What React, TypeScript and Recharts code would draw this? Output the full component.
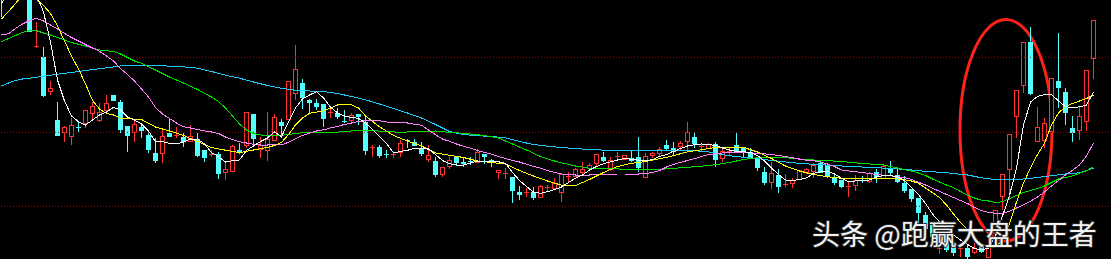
import React from "react";
import {
  ComposedChart,
  Bar,
  Line,
  XAxis,
  YAxis,
  ReferenceLine,
  ReferenceArea,
} from "recharts";

// daily candles, oldest first
const opens = [
  33, 30.8, 34, 32.2, 31, 25.33, 24.27, 20.83, 18.0, 16.77,
  16.33, 17.3, 17.67, 18.67, 17.93, 19.0, 20.47, 19.8, 17.39, 16.77,
  17.33, 16.5, 14.73, 14.67, 16.73, 16.43, 16.27, 15.9, 16.07, 14.99,
  14.6, 14.6, 12.73, 12.83, 15.0, 15.43, 18.59, 15.1, 15.0, 16.0,
  17.83, 18.1, 20.67, 21.67, 20.0, 19.67, 19.59, 18.77, 18.67, 17.83,
  17.93, 18.56, 17.83, 15.27, 15.27, 14.6, 14.6, 14.77, 16.0, 15.83,
  15.23, 14.07, 13.9, 12.6, 13.33, 14.32, 13.83, 13.83, 13.77, 14.59,
  13.93, 12.73, 12.67, 12.32, 10.83, 10.73, 10.83, 10.23, 11.23, 11.17,
  10.73, 12.4, 12.33, 12.73, 13.17, 13.67, 14.33, 13.07, 14.4, 14.07,
  14.17, 14.33, 12.27, 14.43, 14.67, 15.5, 15.17, 15.33, 15.83, 16.33,
  15.4, 15.17, 15.6, 14.17, 14.83, 15.5, 15.22, 14.83, 14.06, 12.83,
  11.73, 12.5, 11.57, 11.67, 12.07, 12.77, 12.83, 13.67, 13.5, 12.17,
  11.99, 11.33, 11.43, 12.0, 11.83, 12.83, 12.17, 13.17, 12.5, 11.67,
  11.09, 10.16, 8.5, 7.5, 5.17, 6.0, 5.33, 5.17, 5.17, 4.73,
  5.4, 4.23, 6.67, 10.33, 13.07, 18.33, 21.5, 25.77, 15.83, 16.0,
  16.83, 21.93, 20.77, 17.23, 16.93, 17.83, 24.17,
];
const highs = [
  34, 33.5, 34.5, 33, 31.5, 27.83, 25.27, 21.9, 19.77, 17.4,
  18.23, 17.83, 19.0, 19.83, 19.67, 20.5, 20.5, 20.0, 17.4, 18.0,
  17.67, 17.0, 16.17, 17.07, 18.07, 17.27, 16.73, 17.5, 16.67, 15.0,
  15.0, 14.83, 13.73, 15.5, 15.67, 18.77, 18.6, 16.33, 18.77, 18.57,
  18.1, 21.9, 25.5, 22.1, 20.1, 20.1, 19.6, 19.27, 19.17, 19.0,
  18.67, 18.57, 18.33, 15.5, 15.5, 15.0, 14.83, 16.0, 16.07, 16.1,
  15.83, 15.5, 14.33, 13.33, 14.33, 14.33, 14.17, 14.27, 15.07, 14.6,
  14.07, 12.93, 13.17, 12.33, 11.4, 11.17, 11.33, 11.5, 11.5, 12.2,
  12.6, 12.83, 13.17, 13.77, 13.67, 14.6, 14.77, 14.33, 14.77, 14.5,
  14.93, 16.33, 14.67, 14.83, 15.33, 16.0, 15.77, 15.93, 17.77, 16.77,
  15.6, 15.73, 15.83, 15.07, 15.17, 16.73, 15.23, 15.17, 14.07, 13.33,
  13.83, 13.07, 12.6, 12.23, 12.93, 13.23, 13.67, 13.93, 13.7, 12.67,
  12.0, 11.83, 12.5, 12.4, 12.83, 13.1, 13.33, 13.93, 13.07, 12.4,
  11.1, 10.17, 8.8, 7.8, 5.5, 6.2, 5.8, 5.4, 5.5, 5.67,
  5.5, 6.5, 9.0, 12.6, 16.57, 21.0, 25.77, 27.33, 19.33, 18.17,
  22.17, 26.67, 21.17, 18.4, 19.33, 23.0, 28.0,
];
const lows = [
  28.3, 30.5, 31.2, 30.3, 26.76, 25.17, 20.33, 20.5, 16.4, 15.83,
  15.5, 16.83, 17.17, 18.1, 17.83, 18.83, 19.92, 16.67, 14.83, 15.83,
  16.17, 14.73, 13.73, 13.73, 16.32, 16.17, 15.33, 15.83, 14.33, 13.83,
  14.33, 12.1, 12.0, 12.82, 14.6, 15.17, 15.33, 14.17, 13.93, 15.9,
  16.17, 18.09, 20.0, 19.1, 18.6, 19.0, 17.33, 18.23, 18.1, 17.73,
  17.67, 17.5, 14.5, 14.33, 14.17, 14.17, 14.23, 14.33, 15.17, 15.4,
  14.4, 13.77, 12.33, 12.33, 13.07, 13.43, 13.33, 13.5, 13.67, 13.6,
  13.33, 12.1, 12.1, 9.73, 10.0, 10.33, 10.0, 10.22, 10.83, 11.0,
  9.83, 11.83, 12.27, 12.6, 13.0, 13.33, 13.83, 12.93, 14.0, 14.06,
  13.83, 12.83, 12.26, 14.17, 14.33, 15.0, 14.5, 15.0, 14.83, 15.17,
  14.93, 15.1, 13.33, 13.83, 14.5, 14.73, 14.33, 14.16, 12.93, 11.5,
  11.1, 10.73, 11.33, 11.17, 12.0, 12.6, 12.23, 12.72, 12.2, 11.5,
  11.17, 10.33, 10.93, 11.67, 11.73, 11.73, 12.16, 12.5, 11.67, 10.67,
  9.83, 7.67, 6.7, 6.0, 4.6, 4.8, 4.4, 4.33, 4.1, 4.6,
  4.7, 4.17, 5.4, 9.0, 10.0, 16.17, 20.67, 20.5, 15.82, 15.17,
  16.82, 19.17, 17.5, 15.83, 16.0, 16.93, 22.1,
];
const closes = [
  31, 33, 32, 31, 26.77, 25.33, 20.43, 21.17, 16.43, 17.23,
  17.47, 17.29, 18.95, 19.33, 18.77, 19.67, 19.93, 17.0, 16.43, 17.6,
  16.93, 15.0, 13.9, 16.4, 16.33, 16.43, 15.83, 16.33, 14.4, 14.23,
  14.6, 12.6, 13.07, 15.4, 14.67, 18.76, 16.07, 15.43, 16.07, 18.27,
  17.4, 21.89, 23.07, 20.23, 19.67, 19.33, 18.07, 18.77, 18.27, 17.82,
  18.43, 18.27, 14.9, 15.27, 14.4, 14.59, 14.6, 15.67, 15.9, 15.43,
  14.6, 14.5, 12.5, 13.23, 14.0, 13.67, 13.57, 13.82, 14.73, 14.27,
  13.92, 12.92, 12.67, 10.93, 10.5, 10.73, 10.23, 11.4, 11.23, 11.67,
  12.59, 12.4, 13.07, 13.07, 13.5, 14.59, 13.9, 14.0, 14.4, 14.49,
  13.93, 13.17, 14.33, 14.67, 15.07, 15.1, 14.83, 15.67, 16.77, 15.6,
  15.4, 15.57, 14.0, 14.83, 14.83, 14.83, 14.77, 14.17, 13.17, 11.73,
  12.67, 11.33, 11.57, 12.0, 12.92, 13.1, 13.5, 12.73, 12.27, 11.73,
  11.33, 11.33, 12.0, 11.99, 12.67, 12.27, 13.32, 12.67, 11.83, 10.93,
  10.07, 8.67, 7.1, 6.3, 5.17, 5.0, 4.67, 5.17, 4.33, 5.17,
  4.83, 5.33, 8.99, 12.59, 16.56, 20.99, 25.76, 20.6, 17.27, 17.67,
  22.16, 21.17, 18.73, 16.73, 18.4, 22.99, 27.99,
];

// moving averages
const ma5 = [
  29.7, 30.5, 31.5, 32, 31.8, 30.5, 28.8, 25.8, 22, 19.9,
  18.4, 17.83, 17.5, 18, 18.5, 18.8, 19.27, 19, 18.3, 18,
  17.6, 16.9, 15.83, 15.83, 15.67, 15.6, 15.8, 16.1, 16.1, 15.6,
  14.75, 14.33, 13.8, 13.93, 14, 14.95, 15.4, 15.85, 16.2, 16.8,
  16.33, 17.8, 19.2, 20.1, 20.5, 20.83, 20.2, 19.3, 18.7, 18.4,
  18.25, 18.17, 17.7, 17.05, 16.35, 15.67, 14.7, 14.85, 14.97, 15.17,
  15.17, 15.1, 14.55, 13.95, 13.63, 13.5, 13.47, 13.7, 13.9, 13.9,
  13.87, 13.82, 13.67, 12.75, 11.95, 11.35, 10.8, 10.67, 10.83, 11.05,
  11.3, 11.75, 12.17, 12.5, 13, 13.35, 13.63, 13.8, 14, 14.15,
  14.07, 13.98, 13.92, 14.05, 14.35, 14.55, 14.85, 15.15, 15.4, 15.53,
  15.6, 15.55, 15.45, 15.2, 15, 14.88, 14.83, 14.75, 14.45, 13.9,
  13.2, 12.55, 12, 11.95, 12.05, 12.2, 12.67, 12.8, 12.85, 12.6,
  12.17, 11.83, 11.9, 11.95, 12, 12.3, 12.45, 12.45, 12.3, 11.95,
  11.25, 10.55, 9.65, 8.6, 7.8, 7.05, 6.5, 6, 5.55, 5.15,
  5, 5.2, 6.4, 8.4, 10.45, 13.2, 17.5, 19.8, 20.35, 20.53,
  20.55, 19.9, 19.35, 19.23, 19.32, 19.5, 20.8,
];
const ma10: [number, number][] = [
  [0, 28.1], [1, 28.85], [2, 29.65], [3, 30.5], [4, 30.6], [5, 30.1], [6, 29.45],
  [7, 28.65], [8, 27.4], [9, 25.9], [10, 24.4], [11, 23.1], [12, 21.6], [13, 19.95],
  [14, 19.1], [15, 18.65], [16, 18.5], [17, 18.17], [20, 18.05], [22, 17.3], [24, 16.9],
  [26, 16.45], [28, 15.85], [30, 15.25], [32, 14.98], [34, 14.73], [36, 15], [38, 15.27],
  [39, 15.45], [40, 15.75], [41, 16.55], [42, 17.5], [43, 18.2], [44, 18.67], [46, 18.9],
  [48, 19.5], [50, 19.53], [51, 19.2], [52, 18.4], [54, 17.33], [56, 16.45], [58, 15.9],
  [60, 15.4], [62, 14.7], [64, 14.48], [66, 14.25], [68, 13.9], [70, 13.75], [72, 13.6],
  [74, 12.95], [76, 12.4], [78, 11.9], [80, 11.48], [82, 11.45], [84, 12.05], [86, 12.75],
  [88, 13.35], [90, 13.67], [92, 13.85], [94, 14.12], [96, 14.43], [98, 14.82], [100, 15.02],
  [102, 15.25], [104, 15.27], [106, 15.27], [108, 14.8], [110, 14.15], [112, 13.4], [114, 12.9],
  [116, 12.55], [118, 12.33], [120, 12.17], [124, 12.17], [128, 12.1], [129, 12.03], [130, 11.9],
  [131, 11.67], [132, 11.2], [133, 10.73], [134, 10.25], [135, 9.5], [136, 8.6], [137, 7.75],
  [138, 7.05], [139, 6.2], [140, 5.63], [141, 5.23], [142, 5.3], [143, 6], [144, 7.6],
  [145, 9.8], [146, 11.7], [147, 13.2], [148, 14.55], [149, 15.67], [150, 17.5], [151, 18.7],
  [152, 19.35], [153, 19.65], [154, 19.9], [155, 20.15], [156, 20.5],
];
const ma20 = [
  26.5, 26.62, 27.15, 27.6, 27.95, 28.17, 27.9, 27.5, 27.1, 26.65,
  26.25, 25.9, 25.55, 25.2, 24.87, 24.4, 23.9, 23.15, 22.55, 21.9,
  21.1, 20.3, 19.25, 18.6, 18.15, 17.7, 17.32, 17.2, 17.05, 16.9,
  16.8, 16.65, 16.3, 16.05, 15.82, 15.7, 15.58, 15.5, 15.5, 15.55,
  15.52, 15.77, 16.14, 16.45, 16.7, 16.9, 17.02, 17.2, 17.37, 17.55,
  17.7, 17.85, 17.92, 17.93, 17.93, 17.8, 17.74, 17.77, 17.7, 17.57,
  17.48, 17.0, 16.53, 16.1, 15.87, 15.6, 15.37, 15.18, 14.94, 14.75,
  14.58, 14.35, 14.15, 13.96, 13.8, 13.57, 13.36, 13.18, 12.95, 12.75,
  12.6, 12.53, 12.5, 12.5, 12.5, 12.53, 12.55, 12.59, 12.6, 12.6,
  12.6, 12.6, 12.64, 12.75, 12.95, 13.3, 13.55, 13.77, 13.95, 14.13,
  14.36, 14.53, 14.62, 14.7, 14.76, 14.77, 14.77, 14.72, 14.66, 14.61,
  14.55, 14.45, 14.35, 14.22, 14.08, 13.98, 13.93, 13.82, 13.6, 13.35,
  13.0, 12.9, 12.83, 12.75, 12.65, 12.56, 12.47, 12.42, 12.34, 12.23,
  12.05, 11.78, 11.5, 11.18, 10.87, 10.55, 10.25, 9.95, 9.65, 9.25,
  8.95, 8.77, 8.67, 8.67, 8.87, 9.2, 9.52, 9.88, 10.3, 10.8,
  11.4, 11.95, 12.5, 12.97, 13.5, 14.4, 15.7,
];
const ma30: [number, number][] = [
  [0, 25.83], [1, 26.15], [2, 26.45], [3, 26.77], [4, 26.93], [5, 26.93], [6, 26.7],
  [7, 26.5], [8, 26.25], [9, 26], [10, 25.75], [12, 25.4], [14, 25], [16, 24.85],
  [17, 24.6], [18, 24.25], [19, 23.9], [20, 23.67], [22, 23], [24, 22.3], [26, 21.7],
  [28, 21.05], [30, 20.3], [31, 19.85], [32, 19.2], [33, 18.4], [34, 17.6], [35, 17],
  [36, 16.65], [37, 16.5], [39, 16.4], [41, 16.55], [43, 16.73], [47, 16.73], [50, 16.9],
  [53, 16.93], [55, 16.85], [57, 16.77], [59, 16.83], [62, 16.9], [64, 16.77], [66, 16.67],
  [69, 16.45], [71, 16.2], [73, 15.6], [75, 15], [77, 14.35], [79, 13.9], [80, 13.72],
  [82, 13.4], [84, 13.17], [87, 13.15], [90, 13.03], [93, 13], [96, 13.17], [98, 13.27],
  [100, 13.38], [102, 13.53], [104, 13.75], [106, 14.05], [108, 14.23], [110, 14.27],
  [112, 14.23], [114, 14.1], [116, 14], [118, 13.93], [120, 13.85], [123, 13.65], [126, 13.5],
  [128, 13.2], [129, 13.03], [130, 12.9], [131, 12.7], [132, 12.45], [133, 12.1], [134, 11.8],
  [135, 11.5], [136, 11.23], [137, 10.85], [138, 10.48], [139, 10.2], [140, 9.97], [141, 9.9],
  [142, 9.75], [143, 9.83], [144, 10.15], [145, 10.45], [146, 10.75], [147, 10.95], [148, 11.13],
  [149, 11.4], [150, 11.75], [151, 12.1], [152, 12.25], [153, 12.4], [154, 12.67], [155, 12.93],
  [156, 13.35],
];
const ma60: [number, number][] = [
  [0, 21.4], [1, 21.7], [2, 21.95], [3, 22.1], [5, 22.27], [7, 22.48], [9, 22.67],
  [11, 22.85], [13, 23.05], [15, 23.22], [17, 23.4], [19, 23.43], [21, 23.47], [23, 23.42],
  [25, 23.35], [27, 23.27], [28, 23.18], [30, 22.85], [32, 22.48], [34, 22.18], [36, 21.8],
  [38, 21.45], [40, 21.17], [42, 20.98], [44, 20.9], [46, 20.85], [48, 20.65], [50, 20.35],
  [52, 20.02], [54, 19.6], [56, 19.15], [58, 18.7], [59, 18.45], [60, 18.2], [62, 17.55],
  [64, 16.85], [66, 16.55], [68, 16.43], [70, 16.35], [72, 16.22], [74, 15.85], [76, 15.55],
  [78, 15.38], [80, 15.25], [82, 15.14], [84, 15.05], [88, 14.93], [98, 14.95], [99, 14.93],
  [101, 14.82], [102, 14.65], [104, 14.43], [106, 14.27], [108, 14.14], [110, 13.96],
  [112, 13.8], [114, 13.66], [117, 13.53], [120, 13.4], [125, 13.23], [129, 13.07],
  [132, 12.87], [135, 12.73], [138, 12.5], [140, 12.22], [142, 12.05], [144, 12], [146, 12.1],
  [148, 12.25], [150, 12.43], [152, 12.6], [154, 12.72], [156, 13.17],
];

const gridLevels = [24.27, 16.77, 9.37];
const circled = { from: 137, to: 150, low: 5.9, high: 28.05 };
const watermark = "头条 @跑赢大盘的王者";

const RED = "#ff3232";
const CYAN = "#54ffff";

const m10 = new Map(ma10);
const m30 = new Map(ma30);
const m60 = new Map(ma60);

const data = opens.map((o, i) => ({
  i,
  open: o,
  high: highs[i],
  low: lows[i],
  close: closes[i],
  range: [lows[i], highs[i]],
  ma5: ma5[i],
  ma10: m10.get(i),
  ma20: ma20[i],
  ma30: m30.get(i),
  ma60: m60.get(i),
}));

const Candle = (props: any) => {
  const { x, y, width, height, payload } = props;
  if (!payload) return null;
  const { open, close, high, low } = payload;
  const top = Math.min(y, y + height);
  const h = Math.abs(height);
  const span = high - low || 1;
  const py = (v: number) => top + ((high - v) / span) * h;
  const up = close >= open;
  const color = up ? RED : CYAN;
  const cx = x + width / 2;
  const bTop = py(Math.max(open, close));
  const bBot = py(Math.min(open, close));
  let body;
  if (bBot - bTop < 1) {
    body = <line x1={x} x2={x + width} y1={bTop} y2={bTop} stroke={color} />;
  } else if (up) {
    body = (
      <rect x={x + 0.5} y={bTop} width={width - 1} height={bBot - bTop} fill="#000" stroke={color} />
    );
  } else {
    body = <rect x={x} y={bTop} width={width} height={bBot - bTop} fill={color} />;
  }
  return (
    <g shapeRendering="crispEdges">
      <line x1={cx} x2={cx} y1={top} y2={bTop} stroke={color} />
      <line x1={cx} x2={cx} y1={bBot} y2={top + h} stroke={color} />
      {body}
    </g>
  );
};

const Ring = (p: any) => (
  <ellipse
    cx={p.x + p.width / 2}
    cy={p.y + p.height / 2}
    rx={p.width / 2 - 3}
    ry={p.height / 2}
    fill="none"
    stroke="#ff2218"
    strokeWidth={3}
  />
);

const maLine = (key: string, color: string) => (
  <Line
    key={key}
    dataKey={key}
    stroke={color}
    strokeWidth={1}
    dot={false}
    activeDot={false}
    connectNulls
    isAnimationActive={false}
  />
);

export default function App() {
  return (
    <div
      style={{
        position: "fixed",
        left: 0,
        top: 0,
        width: 1111,
        height: 259,
        background: "#000",
        overflow: "hidden",
      }}
    >
      <style>{".recharts-line-curve{shape-rendering:crispEdges}"}</style>
      <div style={{ position: "absolute", left: -2, top: 0 }}>
        <ComposedChart
          width={1113}
          height={259}
          data={data}
          margin={{ top: 0, right: 0, bottom: 0, left: 0 }}
        >
          <XAxis dataKey="i" type="category" hide padding={{ left: 0, right: 14 }} />
          <YAxis hide domain={[4.1, 30]} allowDataOverflow type="number" />
          {gridLevels.map((v) => (
            <ReferenceLine key={v} y={v} stroke="#a80000" strokeDasharray="1 2" />
          ))}
          <Bar dataKey="range" barSize={5} shape={<Candle />} isAnimationActive={false} />
          {maLine("ma60", "#20c8f8")}
          {maLine("ma30", "#00e000")}
          {maLine("ma20", "#ff80ff")}
          {maLine("ma10", "#ffff00")}
          {maLine("ma5", "#ffffff")}
          <ReferenceArea
            x1={circled.from}
            x2={circled.to}
            y1={circled.low}
            y2={circled.high}
            ifOverflow="visible"
            shape={<Ring />}
          />
        </ComposedChart>
      </div>
      <svg
        width={1111}
        height={259}
        style={{ position: "absolute", left: 0, top: 0, pointerEvents: "none" }}
      >
        <text
          x={812}
          y={245}
          fontSize={28}
          fontFamily="'Noto Sans CJK SC', sans-serif"
          fill="#f2f2f2"
          stroke="rgba(40,40,40,0.9)"
          strokeWidth={2}
          paintOrder="stroke"
        >
          {watermark}
        </text>
      </svg>
    </div>
  );
}
